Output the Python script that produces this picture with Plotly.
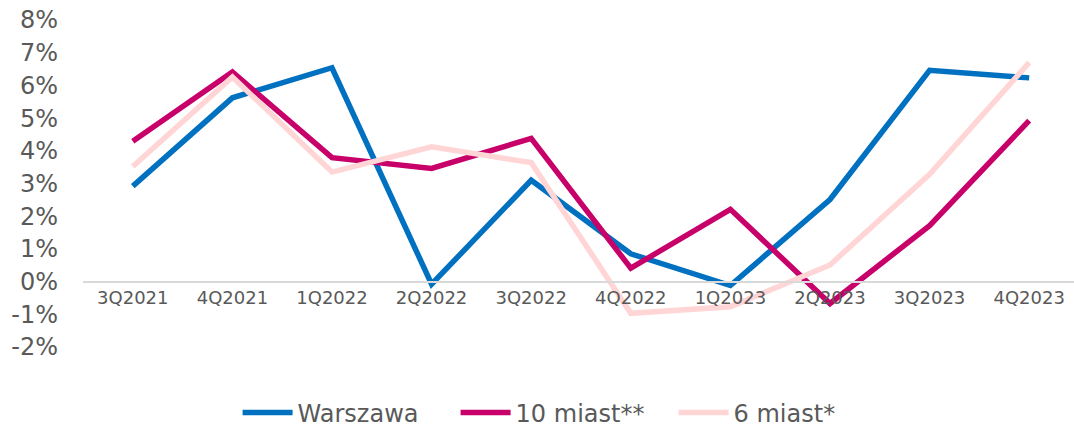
import plotly.graph_objects as go

categories = ["3Q2021", "4Q2021", "1Q2022", "2Q2022", "3Q2022",
              "4Q2022", "1Q2023", "2Q2023", "3Q2023", "4Q2023"]
warszawa = [2.92, 5.62, 6.54, -0.08, 3.10, 0.85, -0.12, 2.51, 6.46, 6.23]
miast10 = [4.29, 6.41, 3.79, 3.46, 4.38, 0.41, 2.21, -0.67, 1.71, 4.92]
miast6 = [3.52, 6.26, 3.35, 4.12, 3.64, -0.97, -0.77, 0.51, 3.28, 6.70]
ytick_vals = [-2, -1, 0, 1, 2, 3, 4, 5, 6, 7, 8]
ytick_text = [f"{v}%" for v in ytick_vals]

series = [
    ("Warszawa", warszawa, "#0070C0"),
    ("10 miast**", miast10, "#C8006A"),
    ("6 miast*", miast6, "#FFD5D5"),
]

fig = go.Figure()
for name, vals, color in series:
    fig.add_trace(go.Scatter(
        x=categories, y=vals, name=name, mode="lines",
        line=dict(color=color, width=5.5),
    ))

fig.update_layout(
    width=1074, height=427,
    margin=dict(l=83, r=0, t=20, b=80, autoexpand=False),
    paper_bgcolor="white", plot_bgcolor="white",
    font=dict(family="DejaVu Sans", color="#595959"),
    showlegend=True,
    legend=dict(orientation="h", x=0.156, xanchor="left",
                yref="container", y=0.033, yanchor="middle",
                font=dict(size=24, color="#595959"), traceorder="normal",
                itemwidth=50, entrywidth=153),
    xaxis=dict(
        type="category", range=[-0.5, 9.45],
        anchor="free", position=0.2, automargin=False,
        showline=True, linecolor="#D9D9D9", linewidth=1.5,
        showgrid=False, ticks="", tickfont=dict(size=18, color="#595959"),
        zeroline=False, fixedrange=True,
    ),
    yaxis=dict(
        range=[-2, 8], tickvals=ytick_vals, ticktext=ytick_text,
        automargin=False, fixedrange=True,
        showgrid=False, zeroline=False, showline=False, ticks="",
        tickfont=dict(size=24, color="#595959"), ticklabelstandoff=24,
    ),
)

fig.write_html(
    "out.html",
    config={"displayModeBar": False},
    post_script="document.body.style.margin='0';document.body.style.overflow='hidden';",
)
